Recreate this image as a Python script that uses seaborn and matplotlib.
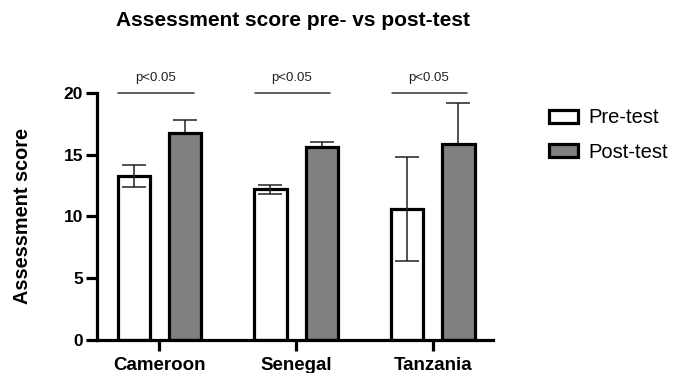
import numpy as np
import pandas as pd
import matplotlib
matplotlib.use('Agg')
import matplotlib.pyplot as plt
import seaborn as sns

# values
countries = ['Cameroon', 'Senegal', 'Tanzania']
groups = ['Pre-test', 'Post-test']
pre_mean = [13.3, 12.2, 10.6]
pre_err = [0.9, 0.35, 4.2]
post_mean = [16.8, 15.6, 15.9]
post_err = [1.05, 0.4, 3.3]
p_labels = ['p<0.05', 'p<0.05', 'p<0.05']

df = pd.DataFrame({
    'country': countries * 2,
    'test': [groups[0]] * 3 + [groups[1]] * 3,
    'score': pre_mean + post_mean,
})

sns.set_style('ticks', {'axes.edgecolor': 'black', 'text.color': 'black',
                        'xtick.color': 'black', 'ytick.color': 'black',
                        'axes.labelcolor': 'black'})
plt.rcParams['font.family'] = ['Liberation Sans', 'DejaVu Sans']

fig = plt.figure(figsize=(6.73, 3.73), dpi=100)
ax = fig.add_axes([0.1441, 0.0885, 0.5884, 0.6622])

sns.barplot(data=df, x='country', y='score', hue='test', order=countries,
            hue_order=groups, palette=['white', '#808080'], errorbar=None,
            width=0.75, gap=0.37, edgecolor='black', linewidth=2.3,
            ax=ax, zorder=2)

# error bars: pre-test both ways (on top), post-test upper only (behind bar)
errs = [(pre_err, True), (post_err, False)]
for cont, (err, both) in zip(ax.containers, errs):
    xs = [b.get_x() + b.get_width() / 2 for b in cont]
    ys = [b.get_height() for b in cont]
    yerr = [err, err] if both else [[0] * len(err), err]
    ax.errorbar(xs, ys, yerr=yerr, fmt='none', ecolor='#222222',
                elinewidth=1.1, capsize=8.5, capthick=1.1,
                zorder=3 if both else 1)

# significance lines
for i, lab in enumerate(p_labels):
    ax.plot([i - 0.30, i + 0.25], [20, 20], color='#333333', lw=1.1,
            clip_on=False)
    ax.text(i - 0.03, 20.7, lab, ha='center', va='bottom', fontsize=9.5,
            color='#222222', clip_on=False)

ax.set_ylim(0, 20)
ax.set_xlim(-0.456, 2.44)
ax.set_yticks([0, 5, 10, 15, 20])
sns.despine(ax=ax)
for s in ['left', 'bottom']:
    ax.spines[s].set_linewidth(2.3)
ax.tick_params(axis='y', length=8, width=2.3, labelsize=12.5, pad=2)
ax.tick_params(axis='x', length=8, width=2.3, labelsize=13.5, pad=4)
for t in ax.get_xticklabels() + ax.get_yticklabels():
    t.set_fontweight('bold')
ax.set_xlabel('')
ax.set_ylabel('Assessment score', fontsize=14.3, fontweight='bold', labelpad=23)

leg = ax.legend(loc='upper left', bbox_to_anchor=(1.12, 0.97), frameon=False,
                fontsize=14.5, handlelength=1.45, handleheight=0.66,
                labelspacing=0.75, handletextpad=0.55, borderaxespad=0)
for h in leg.legend_handles:
    h.set_linewidth(2.3)
    h.set_edgecolor('black')

fig.text(0.436, 0.946, 'Assessment score pre- vs post-test', ha='center',
         va='center', fontsize=15, fontweight='bold')

fig.savefig('out.png', dpi=100)
